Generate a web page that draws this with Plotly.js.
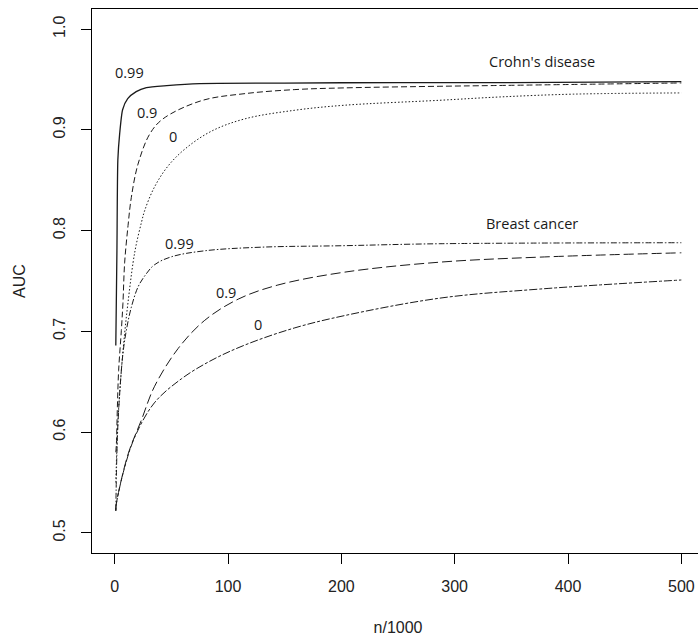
<!DOCTYPE html>
<html>
<head>
<meta charset="utf-8">
<script src="https://cdn.plot.ly/plotly-3.0.1.min.js"></script>
<style>
  html, body { margin: 0; padding: 0; overflow: hidden; background: #fff; }
  #chart { width: 710px; height: 636px; }
</style>
</head>
<body>
<div id="chart"></div>
<script>
// ---- Data (n/1000, AUC) ----
const crohn99N   = [1, 2, 2.8, 4.4, 7, 11.5, 19, 28, 46, 75, 150, 250, 350, 500];
const crohn99Auc = [0.686, 0.78, 0.87, 0.896, 0.92, 0.931, 0.938, 0.942, 0.944, 0.946, 0.9465, 0.947, 0.947, 0.948];

const crohn90N   = [1, 1.5, 2.4, 3.5, 5.9, 7.3, 8.8, 11.8, 14.7, 20.6, 31, 42.7, 76.6, 115, 159, 203, 287, 334, 500];
const crohn90Auc = [0.58, 0.588, 0.625, 0.661, 0.701, 0.728, 0.768, 0.805, 0.833, 0.866, 0.896, 0.911, 0.929, 0.936, 0.940, 0.9417, 0.9433, 0.944, 0.9466];

const crohn0N    = [1, 2.9, 5.9, 8.8, 11.8, 16.2, 19, 23.6, 26.5, 35, 47, 62, 85, 115, 159, 203, 287, 340, 405, 500];
const crohn0Auc  = [0.55, 0.611, 0.661, 0.698, 0.729, 0.768, 0.786, 0.808, 0.82, 0.843, 0.864, 0.881, 0.8985, 0.911, 0.9195, 0.9245, 0.9294, 0.9327, 0.9355, 0.9367];

const breast99N   = [1, 2.4, 4.4, 7.3, 10.3, 14.7, 20.6, 26.5, 35, 50, 79.5, 130, 200, 287, 500];
const breast99Auc = [0.522, 0.595, 0.638, 0.678, 0.701, 0.724, 0.744, 0.755, 0.766, 0.774, 0.780, 0.7836, 0.785, 0.787, 0.788];

const breast90N   = [1, 1.5, 11.8, 23.6, 35, 56, 79.5, 109, 144, 203, 287, 375, 500];
const breast90Auc = [0.522, 0.529, 0.578, 0.612, 0.645, 0.683, 0.711, 0.732, 0.746, 0.7588, 0.7687, 0.7737, 0.778];

const breast0N    = [1, 1.5, 8.8, 17.7, 35, 59, 85, 115, 159, 203, 287, 375, 500];
const breast0Auc  = [0.522, 0.529, 0.565, 0.595, 0.629, 0.653, 0.671, 0.6865, 0.7035, 0.7157, 0.733, 0.742, 0.751];

const xTicks = [0, 100, 200, 300, 400, 500];
const yTicks = [0.5, 0.6, 0.7, 0.8, 0.9, 1.0];
const yTickText = ['0.5', '0.6', '0.7', '0.8', '0.9', '1.0'];

// labels: [text, n, auc]
const curveLabels = [
  ['0.99', 13.3, 0.9566],
  ['0.9', 28.9, 0.917],
  ['0', 51.5, 0.893],
  ["Crohn's disease", 377, 0.9675],
  ['Breast cancer', 368.6, 0.807],
  ['0.99', 56.8, 0.787],
  ['0.9', 97.8, 0.739],
  ['0', 126.6, 0.7065]
];

// ---- Traces ----
const lineCol = '#1a1a1a';
function tr(x, y, dash, w, sm) {
  return { x: x, y: y, type: 'scatter', mode: 'lines', line: { color: lineCol, width: w || 1, dash: dash, shape: 'spline', smoothing: sm || 1.0 }, showlegend: false, hoverinfo: 'skip' };
}
const data = [
  tr(crohn99N, crohn99Auc, 'solid', 1.3, 0.6),
  tr(crohn90N, crohn90Auc, '6px,3px'),
  tr(crohn0N, crohn0Auc, '1.5px,2px'),
  tr(breast99N, breast99Auc, '6px,2px,1.5px,2px'),
  tr(breast90N, breast90Auc, '10px,4px'),
  tr(breast0N, breast0Auc, '3px,2px,8px,2px')
];

const tickFont = { family: 'Liberation Sans, Arial, sans-serif', size: 16, color: '#222' };
const labelFont = { family: 'Open Sans, Noto Sans, sans-serif', size: 14.5, color: '#1a1a1a' };

const layout = {
  width: 710, height: 636,
  margin: { l: 92, r: 6, t: 9, b: 83 },
  paper_bgcolor: '#fff', plot_bgcolor: '#fff',
  showlegend: false,
  xaxis: {
    range: [-20, 520], tickvals: xTicks, ticktext: xTicks.map(String),
    ticks: 'outside', ticklen: 10, tickwidth: 1, tickcolor: '#000',
    showline: true, mirror: true, linecolor: '#000', linewidth: 1,
    showgrid: false, zeroline: false, tickfont: tickFont,
    ticklabelstandoff: 9,
    title: { text: 'n/1000', font: tickFont, standoff: 27 }
  },
  yaxis: {
    range: [0.48, 1.02], tickvals: yTicks, ticktext: yTickText, tickangle: -90,
    ticks: 'outside', ticklen: 10, tickwidth: 1, tickcolor: '#000',
    showline: true, mirror: true, linecolor: '#000', linewidth: 1,
    showgrid: false, zeroline: false, tickfont: tickFont,
    ticklabelstandoff: 10,
    title: { text: 'AUC', font: tickFont, standoff: 20 }
  },
  annotations: curveLabels.map(function (l) {
    return { x: l[1], y: l[2], xref: 'x', yref: 'y', text: l[0], showarrow: false, font: labelFont, xanchor: 'center', yanchor: 'middle' };
  })
};

Plotly.newPlot('chart', data, layout, { staticPlot: true, displayModeBar: false });
</script>
</body>
</html>
